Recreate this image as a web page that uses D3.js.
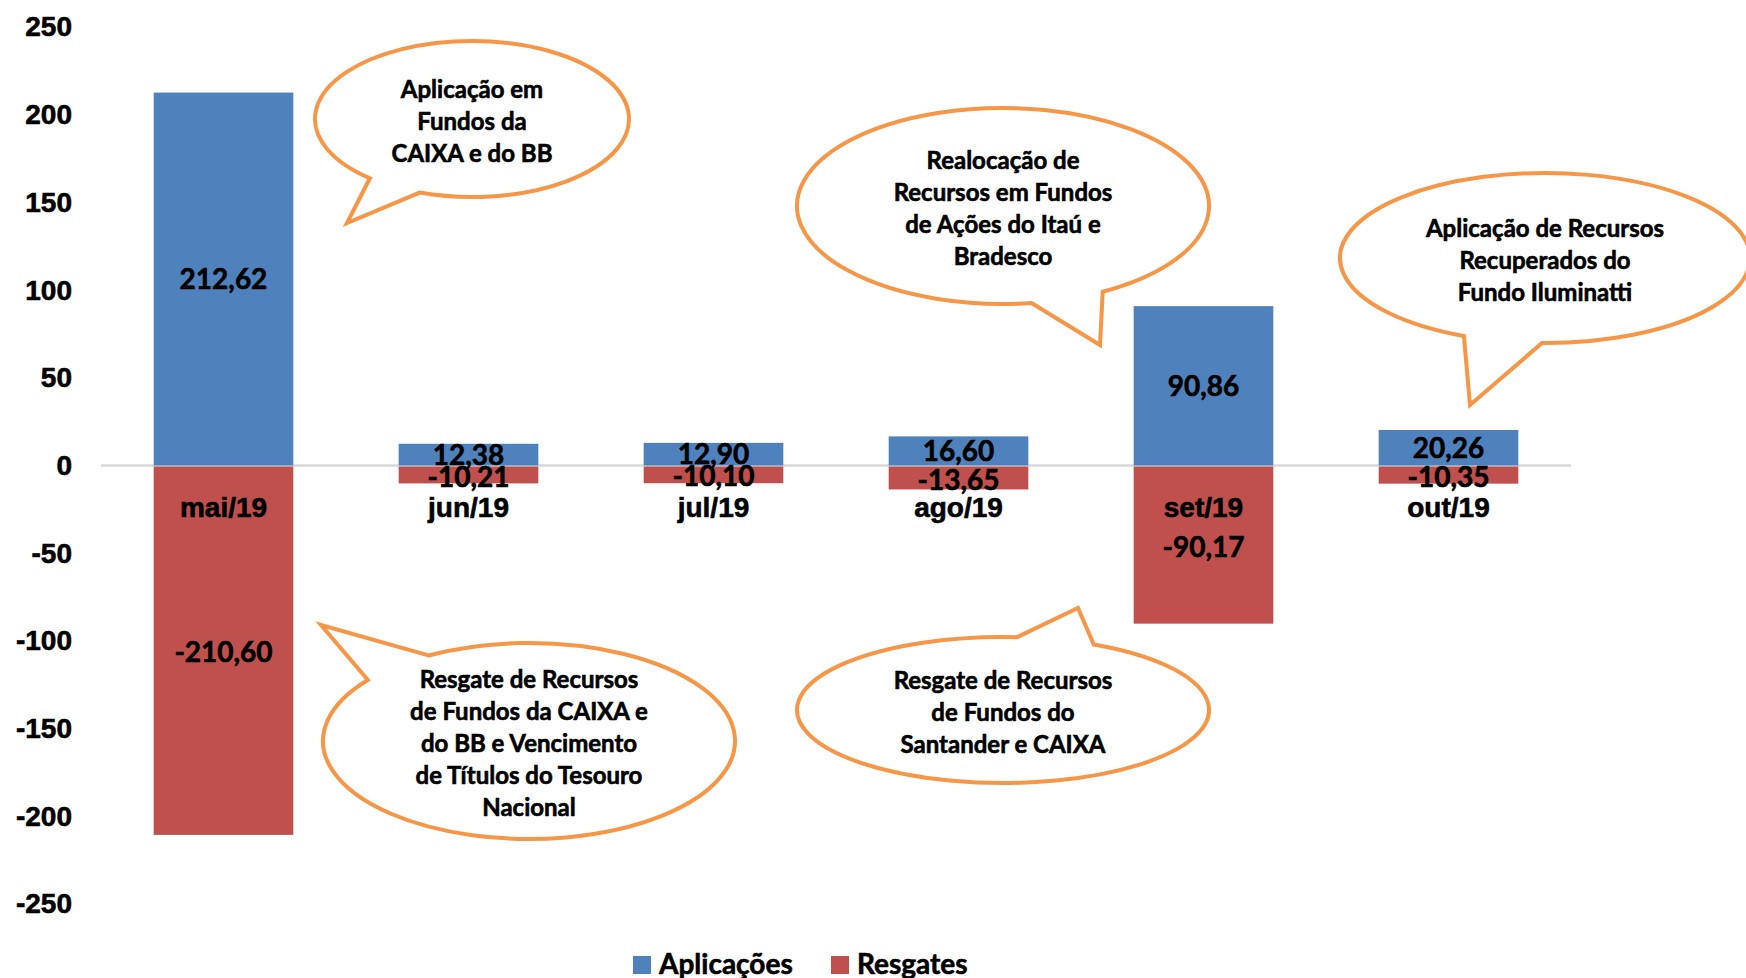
<!DOCTYPE html>
<html>
<head>
<meta charset="utf-8">
<script src="https://cdn.jsdelivr.net/npm/d3@7"></script>
<style>
  html, body { margin: 0; padding: 0; background: #fff; }
  svg { display: block; font-family: Lato, "Open Sans", sans-serif; font-weight: bold; }
  svg text { stroke: #000; stroke-width: 0.6px; }
</style>
</head>
<body>
<svg id="chart" width="1746" height="978"></svg>
<script>
// data
const months = ["mai/19", "jun/19", "jul/19", "ago/19", "set/19", "out/19"];
const aplicacoes = [212.62, 12.38, 12.90, 16.60, 90.86, 20.26];
const resgates = [-210.60, -10.21, -10.10, -13.65, -90.17, -10.35];
const yTicks = [-250, -200, -150, -100, -50, 0, 50, 100, 150, 200, 250];
const seriesNames = ["Aplicações", "Resgates"];

const callouts = [
  { lines: ["Aplicação em", "Fundos da", "CAIXA e do BB"],
    cx: 472, cy: 119, rx: 157, ry: 78, tip: [347, 223], b1: [372, 177], b2: [420, 192] },
  { lines: ["Realocação de", "Recursos em Fundos", "de Ações do Itaú e", "Bradesco"],
    cx: 1003, cy: 206, rx: 206, ry: 98, tip: [1100, 345], b1: [1032, 305], b2: [1103, 292] },
  { lines: ["Aplicação de Recursos", "Recuperados do", "Fundo Iluminatti"],
    cx: 1545, cy: 258, rx: 205, ry: 85, tip: [1470, 405], b1: [1465, 335], b2: [1542, 343] },
  { lines: ["Resgate de Recursos", "de Fundos da CAIXA e", "do BB e Vencimento", "de Títulos do Tesouro", "Nacional"],
    cx: 529, cy: 741, rx: 206, ry: 98, tip: [321, 625], b1: [428, 655], b2: [368, 680] },
  { lines: ["Resgate de Recursos", "de Fundos do", "Santander e CAIXA"],
    cx: 1003, cy: 710, rx: 206, ry: 73, tip: [1078, 608], b1: [1017, 638], b2: [1093, 645] }
];

const colors = ["#4F81BD", "#C0504D"];
const orange = "#F79646";
const fmt = v => d3.format(".2f")(v).replace(".", ",").replace("\u2212", "-");

const svg = d3.select("#chart");

const x = d3.scaleBand().domain(months).range([101, 1571]).paddingInner(0.43).paddingOuter(0.215);
const y = d3.scaleLinear().domain([-250, 250]).range([904, 27]);

// y axis labels only
svg.append("g")
  .attr("transform", "translate(101,0)")
  .call(d3.axisLeft(y).tickValues(yTicks).tickSize(0).tickPadding(29).tickFormat(d => d))
  .call(g => g.select(".domain").remove())
  .call(g => g.selectAll("text").attr("font-size", 28).attr("font-family", null).attr("fill", "#000"));

// zero line
svg.append("line")
  .attr("x1", 101).attr("x2", 1571)
  .attr("y1", y(0)).attr("y2", y(0))
  .attr("stroke", "#D9D9D9").attr("stroke-width", 2.5);

// bars
svg.append("g").selectAll("rect.apl")
  .data(aplicacoes)
  .join("rect")
  .attr("x", (d, i) => x(months[i]))
  .attr("width", x.bandwidth())
  .attr("y", d => y(d))
  .attr("height", d => y(0) - y(d))
  .attr("fill", colors[0]);

svg.append("g").selectAll("rect.res")
  .data(resgates)
  .join("rect")
  .attr("x", (d, i) => x(months[i]))
  .attr("width", x.bandwidth())
  .attr("y", y(0) + 1)
  .attr("height", d => y(d) - y(0) - 1)
  .attr("fill", colors[1]);

// category labels
svg.append("g")
  .attr("transform", `translate(0,${y(0)})`)
  .call(d3.axisBottom(x).tickSize(0).tickPadding(32))
  .call(g => g.select(".domain").remove())
  .call(g => g.selectAll("text").attr("font-size", 28).attr("font-family", null).attr("fill", "#000"));

// data labels
const labels = svg.append("g").attr("font-size", 28).attr("text-anchor", "middle");
labels.selectAll("text.a")
  .data(aplicacoes)
  .join("text")
  .attr("x", (d, i) => x(months[i]) + x.bandwidth() / 2)
  .attr("y", d => (y(d) + y(0)) / 2)
  .attr("dy", "0.36em")
  .text(fmt);
labels.selectAll("text.r")
  .data(resgates)
  .join("text")
  .attr("x", (d, i) => x(months[i]) + x.bandwidth() / 2)
  .attr("y", d => (y(d) + y(0)) / 2 + 2)
  .attr("dy", "0.36em")
  .text(fmt);

// speech bubbles
function bubblePath(c) {
  const ang = p => Math.atan2((p[1] - c.cy) / c.ry, (p[0] - c.cx) / c.rx);
  const t1 = ang(c.b1), t2 = ang(c.b2);
  const pt = t => [c.cx + c.rx * Math.cos(t), c.cy + c.ry * Math.sin(t)];
  const p1 = pt(t1), p2 = pt(t2);
  const dd = (((t1 - t2) % (2 * Math.PI)) + 2 * Math.PI) % (2 * Math.PI);
  const sweep = dd > Math.PI ? 1 : 0;
  return `M${p1[0]},${p1[1]}L${c.tip[0]},${c.tip[1]}L${p2[0]},${p2[1]}` +
    `A${c.rx},${c.ry} 0 1 ${sweep} ${p1[0]},${p1[1]}Z`;
}

const bubbles = svg.append("g").selectAll("g")
  .data(callouts)
  .join("g");

bubbles.append("path")
  .attr("d", bubblePath)
  .attr("fill", "#fff")
  .attr("stroke", orange)
  .attr("stroke-width", 4)
  .attr("stroke-linejoin", "miter");

bubbles.append("text")
  .attr("font-size", 24)
  .attr("text-anchor", "middle")
  .selectAll("tspan")
  .data(c => c.lines.map((l, i) => ({ l, i, c })))
  .join("tspan")
  .attr("x", d => d.c.cx)
  .attr("y", d => d.c.cy + 2 + (d.i - (d.c.lines.length - 1) / 2) * 32)
  .attr("dy", "0.36em")
  .text(d => d.l);

// legend
const legend = svg.append("g").attr("transform", "translate(633,956)");
const items = legend.selectAll("g")
  .data(seriesNames)
  .join("g")
  .attr("transform", (d, i) => `translate(${i * 198},0)`);
items.append("rect").attr("width", 18).attr("height", 18).attr("fill", (d, i) => colors[i]);
items.append("text").attr("x", 26).attr("y", 18).attr("font-size", 28).text(d => d);
</script>
</body>
</html>
